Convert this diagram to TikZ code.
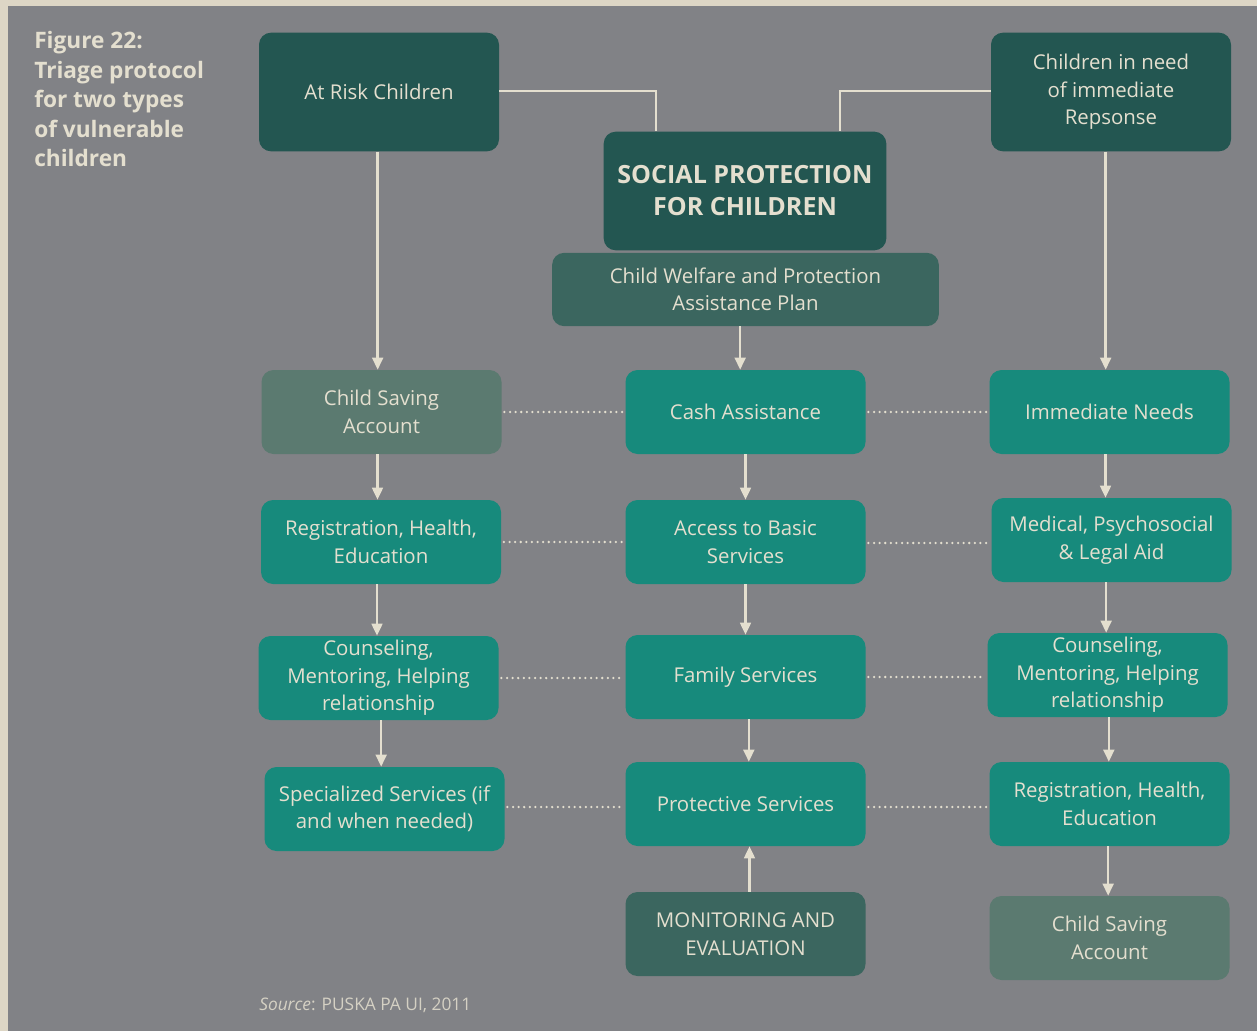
\documentclass[tikz,border=0pt]{standalone}
\usepackage{fontspec}
\setmainfont{Open Sans}
\usetikzlibrary{arrows.meta}
\definecolor{paper}{HTML}{DDD6C5}
\definecolor{panel}{HTML}{818286}
\definecolor{darkgreen}{HTML}{235651}
\definecolor{midgreen}{HTML}{3B665F}
\definecolor{teal}{HTML}{178A7C}
\definecolor{greygreen}{HTML}{5B7A70}
\definecolor{cream}{HTML}{E4DFCF}
\tikzset{
  box/.style={rounded corners=9pt, minimum width=180pt, minimum height=63pt,
    align=center, text=cream, font=\fontsize{15.3}{20.6}\selectfont, inner sep=2pt},
  tealbox/.style={box, fill=teal},
  darkbox/.style={box, fill=darkgreen},
  midbox/.style={box, fill=midgreen},
  greybox/.style={box, fill=greygreen},
  link/.style={draw=cream, line width=1.9pt},
  flow/.style={link, -{Triangle[length=9pt,width=8pt]}},
  dots/.style={draw=cream, line width=1.9pt, line cap=round, dash pattern=on 0pt off 4.2pt}
}
\begin{document}
\begin{tikzpicture}[x=0.75pt, y=-0.75pt]
\useasboundingbox (0,0) rectangle (1257,1031);
\fill[paper] (0,0) rectangle (1257,1031);
\fill[panel] (8,6) rectangle (1257,1031);

\node[anchor=north west, align=left, text=cream, inner sep=0pt,
  font=\bfseries\fontsize{17}{22.2}\selectfont] (title) at (34,31)
  {Figure 22:\\Triage protocol\\for two types\\of vulnerable\\children};

% top row
\node[darkbox, minimum width=180pt, minimum height=89pt] (atrisk) at (379,92) {At Risk Children};
\node[darkbox, minimum width=180pt, minimum height=89pt] (inneed) at (1111,92) {Children in need\\of immediate\\Repsonse};
\node[darkbox, minimum width=212pt, minimum height=89pt,
  font=\bfseries\fontsize{18.8}{24}\selectfont] (spc) at (745,191) {SOCIAL PROTECTION\\FOR CHILDREN};
\node[midbox, minimum width=290pt, minimum height=55pt] (plan) at (745.5,289.5) {Child Welfare and Protection\\Assistance Plan};

% left column
\node[greybox] (lsave) at (381.5,412) {Child Saving\\Account};
\node[tealbox] (lreg) at (381,542) {Registration, Health,\\Education};
\node[tealbox] (lcoun) at (378.5,678) {Counseling,\\Mentoring, Helping\\relationship};
\node[tealbox] (lspec) at (384.5,809) {Specialized Services (if\\and when needed)};

% middle column
\node[tealbox] (cash) at (745.5,412) {Cash Assistance};
\node[tealbox] (access) at (745.5,542) {Access to Basic\\Services};
\node[tealbox] (family) at (745.5,677) {Family Services};
\node[tealbox] (protect) at (745.5,804) {Protective Services};
\node[midbox] (monitor) at (745.5,934) {MONITORING AND\\EVALUATION};

% right column
\node[tealbox] (needs) at (1109.5,412) {Immediate Needs};
\node[tealbox] (medical) at (1111.5,540) {Medical, Psychosocial\\\& Legal Aid};
\node[tealbox] (rcoun) at (1107.5,675) {Counseling,\\Mentoring, Helping\\relationship};
\node[tealbox] (rreg) at (1109.5,804) {Registration, Health,\\Education};
\node[greybox] (rsave) at (1109.5,938) {Child Saving\\Account};

% feeds into the central programme
\coordinate (jl) at (656,91);
\coordinate (jr) at (840,91);
\draw[link] (atrisk.east |- jl) -- (jl) -- (jl |- spc.north);
\draw[link] (inneed.west |- jr) -- (jr) -- (jr |- spc.north);

% vertical flows
\draw[flow] ([xshift=-1pt]atrisk.south) -- ([xshift=-1pt]atrisk.south |- lsave.north) ;
\draw[flow] ([xshift=-4pt]inneed.south) -- ([xshift=-4pt]inneed.south |- needs.north);
\draw[flow] ([xshift=-4pt]plan.south) -- ([xshift=-4pt]plan.south |- cash.north);

\draw[flow] ([xshift=-3pt]lsave.south) -- ([xshift=-3pt]lsave.south |- lreg.north);
\draw[flow] ([xshift=-3pt]lreg.south) -- ([xshift=-3pt]lreg.south |- lcoun.north);
\draw[flow] ([xshift=2pt]lcoun.south) -- ([xshift=2pt]lcoun.south |- lspec.north);

\draw[flow] (cash.south) -- (cash.south |- access.north);
\draw[flow] (access.south) -- (access.south |- family.north);
\draw[flow] ([xshift=2.5pt]family.south) -- ([xshift=2.5pt]family.south |- protect.north);
\draw[flow] ([xshift=3pt]monitor.north) -- ([xshift=3pt]monitor.north |- protect.south);

\draw[flow] ([xshift=-3pt]needs.south) -- ([xshift=-3pt]needs.south |- medical.north);
\draw[flow] ([xshift=-4pt]medical.south) -- ([xshift=-4pt]medical.south |- rcoun.north);
\draw[flow] ([xshift=1pt]rcoun.south) -- ([xshift=1pt]rcoun.south |- rreg.north);
\draw[flow] ([xshift=-1pt]rreg.south) -- ([xshift=-1pt]rreg.south |- rsave.north);

% dotted cross links
\draw[dots] ([xshift=2pt]lsave.east) -- ([xshift=-2pt]lsave.east -| cash.west);
\draw[dots] ([xshift=2pt]cash.east) -- ([xshift=-2pt]cash.east -| needs.west);
\draw[dots] ([xshift=2pt]lreg.east) -- ([xshift=-2pt]lreg.east -| access.west);
\draw[dots] ([xshift=2pt]access.east |- 0,543) -- ([xshift=-2pt]medical.west |- 0,543);
\draw[dots] ([xshift=2pt]lcoun.east) -- ([xshift=-2pt]lcoun.east -| family.west);
\draw[dots] ([xshift=2pt]family.east) -- ([xshift=-2pt]family.east -| rcoun.west);
\draw[dots] ([xshift=2pt]lspec.east |- 0,807) -- ([xshift=-2pt]protect.west |- 0,807);
\draw[dots] ([xshift=2pt]protect.east |- 0,807) -- ([xshift=-2pt]rreg.west |- 0,807);

\node[anchor=base west, text=cream!85!panel, inner sep=0pt,
  font=\fontsize{13}{15}\selectfont] (source) at (259,1010) {\textit{Source}: PUSKA PA UI, 2011};
\end{tikzpicture}
\end{document}
